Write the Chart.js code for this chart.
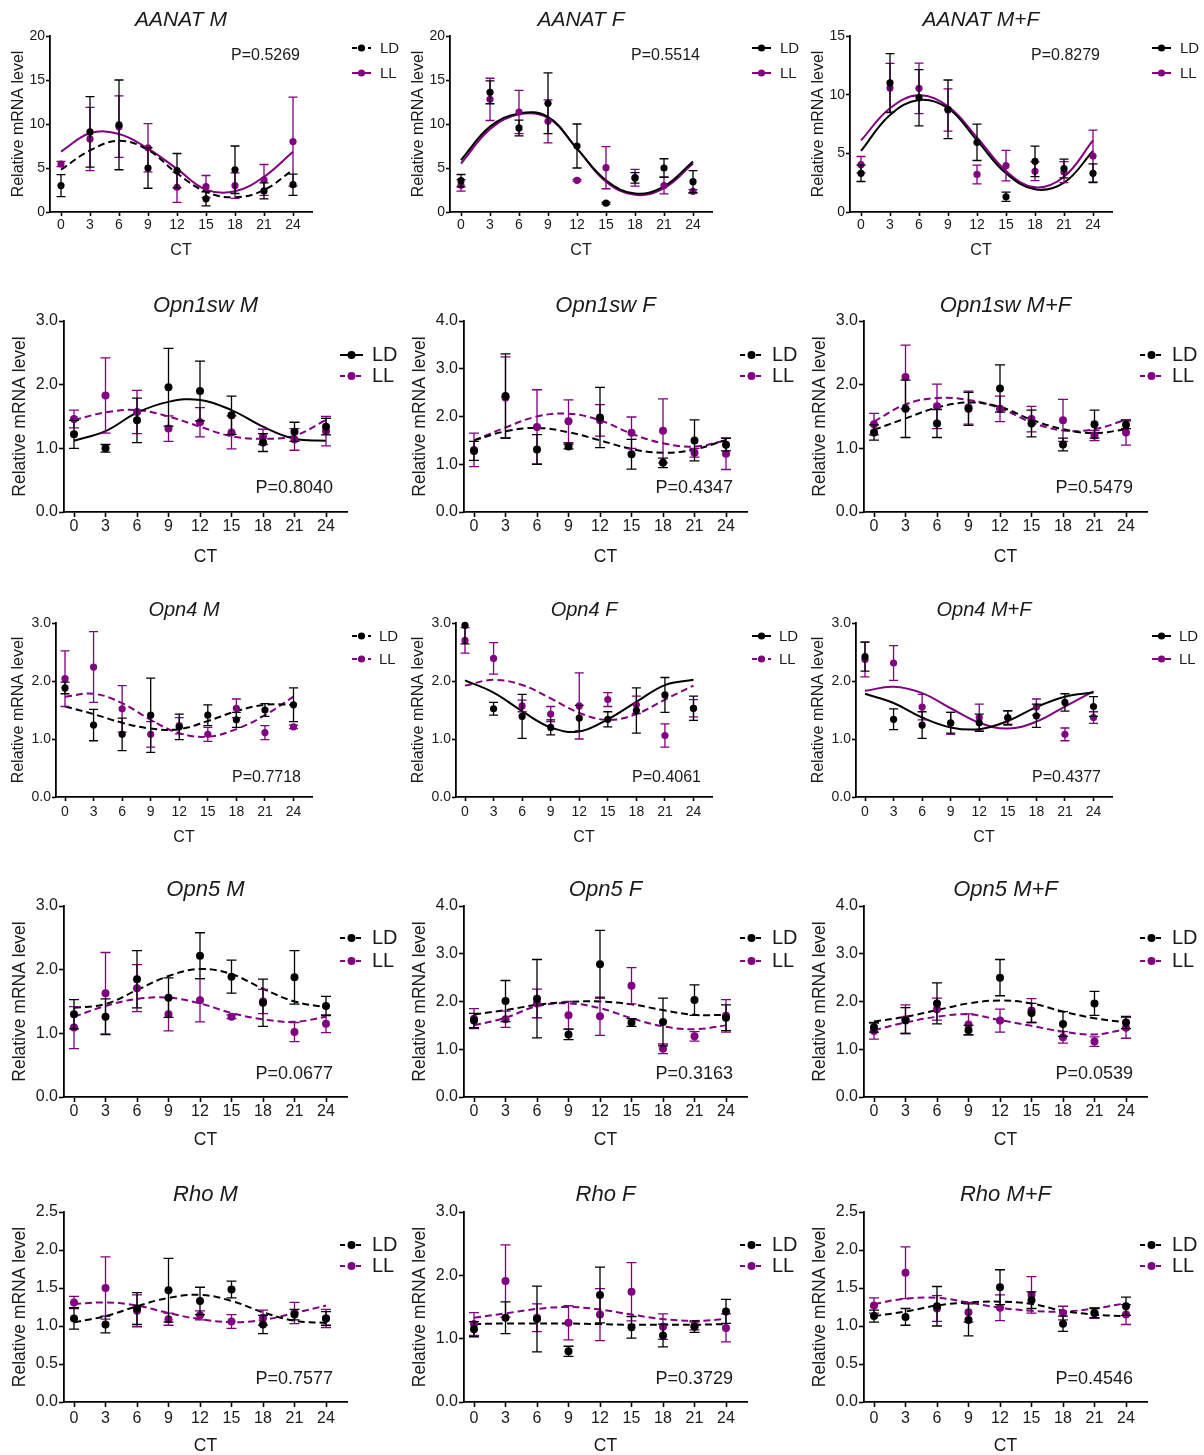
<!DOCTYPE html>
<html><head><meta charset="utf-8">
<script src="https://cdn.jsdelivr.net/npm/chart.js@4.4.1/dist/chart.umd.min.js"></script>
<style>
html,body{margin:0;padding:0;background:#fff;}
body{width:1204px;height:1455px;position:relative;overflow:hidden;}
canvas{position:absolute;}
</style></head><body>
<script>
// ---------------- DATA ----------------
const CT = [0,3,6,9,12,15,18,21,24];
const X_TICKS = [0,3,6,9,12,15,18,21,24];
const Y_TICKS_20 = [0,5,10,15,20];
const Y_TICKS_15 = [0,5,10,15];
const Y_TICKS_3 = [0,1,2,3];
const Y_TICKS_4 = [0,1,2,3,4];
const Y_TICKS_25 = [0,0.5,1,1.5,2,2.5];
const SERIES_NAMES = ['LD','LL'];

const AANAT_M_LD      = [3.0, 9.1, 9.9, 5.0, 4.7, 1.5, 4.8, 2.4, 3.1];
const AANAT_M_LD_SEM  = [1.25, 4.0, 5.1, 2.3, 1.95, 0.8, 2.7, 0.9, 1.2];
const AANAT_M_LL      = [5.45, 8.3, 9.7, 7.3, 2.8, 2.9, 3.0, 3.65, 8.0];
const AANAT_M_LL_SEM  = [0.3, 3.6, 3.5, 2.75, 1.7, 1.25, 1.45, 1.75, 5.05];
const AANAT_M_LD_FIT  = [4.8, 7.0, 8.1, 7.05, 4.4, 2.3, 1.67, 2.5, 4.8];
const AANAT_M_LL_FIT  = [6.86, 8.94, 8.86, 7.2, 4.9, 2.55, 2.35, 4.0, 6.86];

const AANAT_F_LD      = [3.56, 13.6, 9.55, 12.35, 7.5, 1.0, 3.87, 5.0, 3.45];
const AANAT_F_LD_SEM  = [0.7, 1.3, 0.9, 3.45, 2.5, 0.1, 0.6, 1.05, 1.25];
const AANAT_F_LL      = [3.03, 12.8, 11.36, 10.3, 3.6, 5.04, 3.9, 3.0, 2.35];
const AANAT_F_LL_SEM  = [0.65, 2.4, 2.45, 2.45, 0.1, 2.4, 0.95, 0.95, 0.2];
const AANAT_F_LD_FIT  = [5.9, 9.7, 11.2, 10.8, 7.2, 3.6, 2.1, 2.9, 5.75];
const AANAT_F_LL_FIT  = [5.5, 9.4, 11.1, 10.7, 7.2, 3.45, 1.95, 2.7, 5.5];

const AANAT_MF_LD     = [3.3, 11.0, 9.74, 8.75, 5.94, 1.3, 4.32, 3.7, 3.3];
const AANAT_MF_LD_SEM = [0.7, 2.5, 2.4, 2.5, 1.55, 0.4, 1.3, 0.8, 0.8];
const AANAT_MF_LL     = [4.03, 10.57, 10.54, 8.7, 3.2, 3.95, 3.47, 3.4, 4.77];
const AANAT_MF_LL_SEM = [0.7, 2.1, 2.15, 1.8, 0.8, 1.3, 0.8, 0.9, 2.2];
const AANAT_MF_LD_FIT = [5.2, 8.27, 9.55, 8.84, 6.1, 3.3, 1.93, 2.5, 5.2];
const AANAT_MF_LL_FIT = [6.1, 8.84, 9.94, 9.0, 6.36, 3.5, 2.1, 3.0, 6.1];

const OPN1SW_M_LD      = [1.22, 1.0, 1.44, 1.96, 1.9, 1.52, 1.09, 1.26, 1.34];
const OPN1SW_M_LD_SEM  = [0.22, 0.06, 0.35, 0.61, 0.47, 0.3, 0.14, 0.15, 0.13];
const OPN1SW_M_LL      = [1.46, 1.83, 1.57, 1.31, 1.41, 1.25, 1.18, 1.14, 1.27];
const OPN1SW_M_LL_SEM  = [0.14, 0.59, 0.34, 0.2, 0.23, 0.26, 0.12, 0.17, 0.23];
const OPN1SW_M_LD_FIT  = [1.12, 1.27, 1.56, 1.73, 1.76, 1.6, 1.34, 1.15, 1.12];
const OPN1SW_M_LL_FIT  = [1.445, 1.565, 1.6, 1.5, 1.34, 1.19, 1.15, 1.2, 1.445];

const OPN1SW_F_LD      = [1.28, 2.43, 1.31, 1.37, 1.98, 1.21, 1.03, 1.5, 1.41];
const OPN1SW_F_LD_SEM  = [0.2, 0.88, 0.31, 0.05, 0.63, 0.31, 0.1, 0.43, 0.13];
const OPN1SW_F_LL      = [1.3, 2.4, 1.78, 1.9, 1.92, 1.66, 1.7, 1.24, 1.22];
const OPN1SW_F_LL_SEM  = [0.35, 0.85, 0.78, 0.45, 0.33, 0.33, 0.67, 0.09, 0.33];
const OPN1SW_F_LD_FIT  = [1.5, 1.69, 1.76, 1.67, 1.5, 1.32, 1.24, 1.31, 1.51];
const OPN1SW_F_LL_FIT  = [1.5, 1.77, 2.0, 2.06, 1.92, 1.64, 1.44, 1.37, 1.5];

const OPN1SW_MF_LD     = [1.25, 1.62, 1.39, 1.62, 1.94, 1.39, 1.06, 1.38, 1.37];
const OPN1SW_MF_LD_SEM = [0.12, 0.45, 0.22, 0.26, 0.37, 0.21, 0.1, 0.22, 0.06];
const OPN1SW_MF_LL     = [1.38, 2.12, 1.66, 1.64, 1.62, 1.46, 1.44, 1.2, 1.25];
const OPN1SW_MF_LL_SEM = [0.17, 0.5, 0.35, 0.26, 0.2, 0.2, 0.33, 0.08, 0.2];
const OPN1SW_MF_LD_FIT = [1.29, 1.47, 1.64, 1.72, 1.65, 1.45, 1.3, 1.24, 1.3];
const OPN1SW_MF_LL_FIT = [1.42, 1.69, 1.79, 1.76, 1.63, 1.41, 1.28, 1.3, 1.45];

const OPN4_M_LD      = [1.88, 1.24, 1.08, 1.41, 1.21, 1.41, 1.33, 1.5, 1.59];
const OPN4_M_LD_SEM  = [0.1, 0.27, 0.28, 0.64, 0.22, 0.18, 0.13, 0.11, 0.29];
const OPN4_M_LL      = [2.04, 2.24, 1.52, 1.08, 1.23, 1.08, 1.53, 1.11, 1.21];
const OPN4_M_LL_SEM  = [0.48, 0.61, 0.4, 0.22, 0.14, 0.12, 0.16, 0.12, 0.03];
const OPN4_M_LD_FIT  = [1.56, 1.43, 1.28, 1.18, 1.17, 1.31, 1.48, 1.59, 1.59];
const OPN4_M_LL_FIT  = [1.73, 1.78, 1.62, 1.33, 1.1, 1.04, 1.17, 1.41, 1.73];

const OPN4_F_LD      = [2.96, 1.52, 1.39, 1.2, 1.36, 1.34, 1.49, 1.76, 1.53];
const OPN4_F_LD_SEM  = [0.32, 0.11, 0.38, 0.13, 0.22, 0.13, 0.39, 0.3, 0.21];
const OPN4_F_LL      = [2.7, 2.39, 1.57, 1.43, 1.57, 1.68, 1.59, 1.06, 1.53];
const OPN4_F_LL_SEM  = [0.22, 0.27, 0.1, 0.13, 0.57, 0.12, 0.15, 0.2, 0.15];
const OPN4_F_LD_FIT  = [2.01, 1.8, 1.48, 1.2, 1.13, 1.34, 1.64, 1.93, 2.02];
const OPN4_F_LL_FIT  = [1.92, 2.02, 1.93, 1.7, 1.45, 1.33, 1.43, 1.68, 1.92];

const OPN4_MF_LD     = [2.42, 1.34, 1.24, 1.28, 1.28, 1.37, 1.4, 1.63, 1.56];
const OPN4_MF_LD_SEM = [0.25, 0.18, 0.23, 0.18, 0.15, 0.12, 0.2, 0.15, 0.17];
const OPN4_MF_LL     = [2.37, 2.31, 1.55, 1.27, 1.37, 1.36, 1.55, 1.08, 1.37];
const OPN4_MF_LL_SEM = [0.3, 0.3, 0.22, 0.19, 0.23, 0.12, 0.14, 0.11, 0.1];
const OPN4_MF_LD_FIT = [1.78, 1.62, 1.37, 1.2, 1.17, 1.31, 1.55, 1.73, 1.8];
const OPN4_MF_LL_FIT = [1.83, 1.9, 1.79, 1.53, 1.28, 1.18, 1.3, 1.56, 1.82];

const OPN5_M_LD      = [1.3, 1.26, 1.85, 1.56, 2.22, 1.89, 1.48, 1.88, 1.43];
const OPN5_M_LD_SEM  = [0.23, 0.28, 0.45, 0.31, 0.36, 0.26, 0.37, 0.42, 0.15];
const OPN5_M_LL      = [1.09, 1.63, 1.71, 1.3, 1.52, 1.26, 1.5, 1.02, 1.15];
const OPN5_M_LL_SEM  = [0.33, 0.64, 0.37, 0.26, 0.34, 0.03, 0.19, 0.15, 0.14];
const OPN5_M_LD_FIT  = [1.4, 1.46, 1.68, 1.9, 2.01, 1.93, 1.7, 1.5, 1.41];
const OPN5_M_LL_FIT  = [1.26, 1.43, 1.54, 1.56, 1.47, 1.32, 1.22, 1.18, 1.26];

const OPN5_F_LD      = [1.6, 2.01, 2.06, 1.31, 2.78, 1.56, 1.57, 2.03, 1.66];
const OPN5_F_LD_SEM  = [0.15, 0.43, 0.82, 0.11, 0.71, 0.08, 0.5, 0.32, 0.27];
const OPN5_F_LL      = [1.64, 1.63, 1.96, 1.71, 1.69, 2.33, 1.01, 1.27, 1.7];
const OPN5_F_LL_SEM  = [0.21, 0.17, 0.3, 0.29, 0.4, 0.38, 0.1, 0.1, 0.34];
const OPN5_F_LD_FIT  = [1.73, 1.82, 1.93, 1.99, 2.0, 1.94, 1.82, 1.72, 1.72];
const OPN5_F_LL_FIT  = [1.5, 1.66, 1.9, 1.96, 1.86, 1.65, 1.48, 1.42, 1.5];

const OPN5_MF_LD     = [1.46, 1.6, 1.96, 1.4, 2.5, 1.76, 1.53, 1.96, 1.56];
const OPN5_MF_LD_SEM = [0.1, 0.27, 0.43, 0.1, 0.38, 0.2, 0.26, 0.25, 0.13];
const OPN5_MF_LL     = [1.38, 1.63, 1.84, 1.52, 1.6, 1.81, 1.25, 1.16, 1.45];
const OPN5_MF_LL_SEM = [0.17, 0.3, 0.23, 0.22, 0.24, 0.25, 0.12, 0.1, 0.22];
const OPN5_MF_LD_FIT = [1.58, 1.68, 1.82, 1.96, 2.02, 1.96, 1.79, 1.65, 1.56];
const OPN5_MF_LL_FIT = [1.4, 1.56, 1.68, 1.73, 1.61, 1.49, 1.37, 1.31, 1.42];

const RHO_M_LD      = [1.1, 1.02, 1.23, 1.47, 1.33, 1.48, 1.02, 1.15, 1.1];
const RHO_M_LD_SEM  = [0.14, 0.11, 0.21, 0.42, 0.18, 0.11, 0.12, 0.07, 0.09];
const RHO_M_LL      = [1.31, 1.5, 1.2, 1.09, 1.14, 1.06, 1.11, 1.17, 1.1];
const RHO_M_LL_SEM  = [0.08, 0.41, 0.21, 0.08, 0.06, 0.09, 0.1, 0.14, 0.12];
const RHO_M_LD_FIT  = [1.05, 1.13, 1.26, 1.37, 1.41, 1.33, 1.18, 1.07, 1.04];
const RHO_M_LL_FIT  = [1.29, 1.31, 1.27, 1.17, 1.09, 1.05, 1.08, 1.17, 1.27];

const RHO_F_LD      = [1.15, 1.33, 1.31, 0.8, 1.69, 1.18, 1.05, 1.19, 1.43];
const RHO_F_LD_SEM  = [0.12, 0.25, 0.52, 0.08, 0.44, 0.17, 0.18, 0.09, 0.19];
const RHO_F_LL      = [1.23, 1.91, 1.33, 1.25, 1.38, 1.74, 1.19, 1.2, 1.17];
const RHO_F_LL_SEM  = [0.18, 0.57, 0.22, 0.27, 0.41, 0.46, 0.2, 0.06, 0.22];
const RHO_F_LD_FIT  = [1.23, 1.24, 1.24, 1.24, 1.23, 1.22, 1.22, 1.22, 1.23];
const RHO_F_LL_FIT  = [1.33, 1.4, 1.47, 1.5, 1.46, 1.38, 1.31, 1.28, 1.31];

const RHO_MF_LD     = [1.13, 1.12, 1.26, 1.08, 1.51, 1.34, 1.03, 1.17, 1.26];
const RHO_MF_LD_SEM = [0.08, 0.11, 0.26, 0.21, 0.23, 0.11, 0.1, 0.06, 0.12];
const RHO_MF_LL     = [1.27, 1.7, 1.23, 1.18, 1.24, 1.41, 1.17, 1.17, 1.15];
const RHO_MF_LL_SEM = [0.1, 0.34, 0.17, 0.13, 0.17, 0.24, 0.09, 0.07, 0.13];
const RHO_MF_LD_FIT = [1.13, 1.19, 1.27, 1.31, 1.32, 1.29, 1.2, 1.15, 1.13];
const RHO_MF_LL_FIT = [1.29, 1.36, 1.37, 1.31, 1.24, 1.2, 1.19, 1.23, 1.3];

// panel table built from the arrays above
const PANELS = [
 {row:0,col:0,title:'AANAT M',p:'0.5269',yt:Y_TICKS_20,dec:0,ld:AANAT_M_LD,ldS:AANAT_M_LD_SEM,ll:AANAT_M_LL,llS:AANAT_M_LL_SEM,ldF:AANAT_M_LD_FIT,llF:AANAT_M_LL_FIT,ldD:true,llD:false},
 {row:0,col:1,title:'AANAT F',p:'0.5514',yt:Y_TICKS_20,dec:0,ld:AANAT_F_LD,ldS:AANAT_F_LD_SEM,ll:AANAT_F_LL,llS:AANAT_F_LL_SEM,ldF:AANAT_F_LD_FIT,llF:AANAT_F_LL_FIT,ldD:false,llD:false},
 {row:0,col:2,title:'AANAT M+F',p:'0.8279',yt:Y_TICKS_15,dec:0,ld:AANAT_MF_LD,ldS:AANAT_MF_LD_SEM,ll:AANAT_MF_LL,llS:AANAT_MF_LL_SEM,ldF:AANAT_MF_LD_FIT,llF:AANAT_MF_LL_FIT,ldD:false,llD:false},
 {row:1,col:0,title:'Opn1sw M',p:'0.8040',yt:Y_TICKS_3,dec:1,ld:OPN1SW_M_LD,ldS:OPN1SW_M_LD_SEM,ll:OPN1SW_M_LL,llS:OPN1SW_M_LL_SEM,ldF:OPN1SW_M_LD_FIT,llF:OPN1SW_M_LL_FIT,ldD:false,llD:true},
 {row:1,col:1,title:'Opn1sw F',p:'0.4347',yt:Y_TICKS_4,dec:1,ld:OPN1SW_F_LD,ldS:OPN1SW_F_LD_SEM,ll:OPN1SW_F_LL,llS:OPN1SW_F_LL_SEM,ldF:OPN1SW_F_LD_FIT,llF:OPN1SW_F_LL_FIT,ldD:true,llD:true},
 {row:1,col:2,title:'Opn1sw M+F',p:'0.5479',yt:Y_TICKS_3,dec:1,ld:OPN1SW_MF_LD,ldS:OPN1SW_MF_LD_SEM,ll:OPN1SW_MF_LL,llS:OPN1SW_MF_LL_SEM,ldF:OPN1SW_MF_LD_FIT,llF:OPN1SW_MF_LL_FIT,ldD:true,llD:true},
 {row:2,col:0,title:'Opn4 M',p:'0.7718',yt:Y_TICKS_3,dec:1,ld:OPN4_M_LD,ldS:OPN4_M_LD_SEM,ll:OPN4_M_LL,llS:OPN4_M_LL_SEM,ldF:OPN4_M_LD_FIT,llF:OPN4_M_LL_FIT,ldD:true,llD:true},
 {row:2,col:1,title:'Opn4 F',p:'0.4061',yt:Y_TICKS_3,dec:1,ld:OPN4_F_LD,ldS:OPN4_F_LD_SEM,ll:OPN4_F_LL,llS:OPN4_F_LL_SEM,ldF:OPN4_F_LD_FIT,llF:OPN4_F_LL_FIT,ldD:false,llD:true},
 {row:2,col:2,title:'Opn4 M+F',p:'0.4377',yt:Y_TICKS_3,dec:1,ld:OPN4_MF_LD,ldS:OPN4_MF_LD_SEM,ll:OPN4_MF_LL,llS:OPN4_MF_LL_SEM,ldF:OPN4_MF_LD_FIT,llF:OPN4_MF_LL_FIT,ldD:false,llD:false},
 {row:3,col:0,title:'Opn5 M',p:'0.0677',yt:Y_TICKS_3,dec:1,ld:OPN5_M_LD,ldS:OPN5_M_LD_SEM,ll:OPN5_M_LL,llS:OPN5_M_LL_SEM,ldF:OPN5_M_LD_FIT,llF:OPN5_M_LL_FIT,ldD:true,llD:true},
 {row:3,col:1,title:'Opn5 F',p:'0.3163',yt:Y_TICKS_4,dec:1,ld:OPN5_F_LD,ldS:OPN5_F_LD_SEM,ll:OPN5_F_LL,llS:OPN5_F_LL_SEM,ldF:OPN5_F_LD_FIT,llF:OPN5_F_LL_FIT,ldD:true,llD:true},
 {row:3,col:2,title:'Opn5 M+F',p:'0.0539',yt:Y_TICKS_4,dec:1,ld:OPN5_MF_LD,ldS:OPN5_MF_LD_SEM,ll:OPN5_MF_LL,llS:OPN5_MF_LL_SEM,ldF:OPN5_MF_LD_FIT,llF:OPN5_MF_LL_FIT,ldD:true,llD:true},
 {row:4,col:0,title:'Rho M',p:'0.7577',yt:Y_TICKS_25,dec:1,ld:RHO_M_LD,ldS:RHO_M_LD_SEM,ll:RHO_M_LL,llS:RHO_M_LL_SEM,ldF:RHO_M_LD_FIT,llF:RHO_M_LL_FIT,ldD:true,llD:true},
 {row:4,col:1,title:'Rho F',p:'0.3729',yt:Y_TICKS_3,dec:1,ld:RHO_F_LD,ldS:RHO_F_LD_SEM,ll:RHO_F_LL,llS:RHO_F_LL_SEM,ldF:RHO_F_LD_FIT,llF:RHO_F_LL_FIT,ldD:true,llD:true},
 {row:4,col:2,title:'Rho M+F',p:'0.4546',yt:Y_TICKS_25,dec:1,ld:RHO_MF_LD,ldS:RHO_MF_LD_SEM,ll:RHO_MF_LL,llS:RHO_MF_LL_SEM,ldF:RHO_MF_LD_FIT,llF:RHO_MF_LL_FIT,ldD:true,llD:true},
];

// ---------------- LAYOUT / STYLE ----------------
const FONT = "'Liberation Sans', Arial, Helvetica, sans-serif";
const BLACK = '#000000';
const PURPLE = '#800080';
const TEXT = '#1a1a1a';
const COL_X = [0, 400, 800];
const COL_W = [400, 400, 404];
const ROWS = [
 {top:0,    h:265, title:20,   plotTop:36, plotBottom:212, tickLbl:225, ct:251, yAxis:50, xEnd:312, x0:61, x24:293,   yTitleX:18.5, fTitle:21, fTick:14, fAxis:16,   fLeg:15, fP:16, legY:[48,73], legLine:[352,371], legText:380, pX:300, pY:56,  cap:4.5, r:3.6, tl:4},
 {top:285,  h:285, title:20.7, plotTop:36, plotBottom:227, tickLbl:242, ct:272, yAxis:64, xEnd:347, x0:74, x24:326,   yTitleX:20,   fTitle:22, fTick:16, fAxis:17.5, fLeg:20, fP:18, legY:[70,91], legLine:[340,363], legText:372, pX:333, pY:203, cap:5,   r:4,   tl:5},
 {top:595,  h:255, title:15,   plotTop:28, plotBottom:202, tickLbl:217, ct:243, yAxis:56, xEnd:312, x0:65, x24:293.5, yTitleX:19,   fTitle:20, fTick:14, fAxis:16,   fLeg:15, fP:16, legY:[41,64], legLine:[352,371], legText:379, pX:301, pY:183, cap:4.5, r:3.6, tl:4},
 {top:875,  h:280, title:15,   plotTop:31, plotBottom:222, tickLbl:237, ct:265, yAxis:64, xEnd:347, x0:74, x24:326,   yTitleX:20,   fTitle:22, fTick:16, fAxis:17.5, fLeg:20, fP:18, legY:[63,86], legLine:[340,363], legText:372, pX:333, pY:199, cap:5,   r:4,   tl:5},
 {top:1178, h:277, title:17,   plotTop:34, plotBottom:224, tickLbl:241, ct:268, yAxis:64, xEnd:347, x0:74, x24:326,   yTitleX:20,   fTitle:22, fTick:16, fAxis:17.5, fLeg:20, fP:18, legY:[67,88], legLine:[340,363], legText:372, pX:333, pY:201, cap:5,   r:4,   tl:5},
];
const DASH = [7,4];

const errorBarPlugin = {
  id:'errorBars',
  beforeDatasetDraw(chart, args){
    const ds = chart.data.datasets[args.index];
    if (!ds.sem) return;
    const {ctx, chartArea} = chart;
    const xs = chart.scales.x, ys = chart.scales.y;
    const cap = chart.options.plugins.errorBars.cap;
    ctx.save();
    ctx.strokeStyle = ds.errColor;
    ctx.lineWidth = 1.3;
    ctx.setLineDash([]);
    ds.data.forEach((pt, i) => {
      const s = ds.sem[i];
      const x = xs.getPixelForValue(pt.x);
      const yTopRaw = ys.getPixelForValue(pt.y + s);
      const yBot = ys.getPixelForValue(pt.y - s);
      const yTop = Math.max(yTopRaw, chartArea.top);
      ctx.beginPath();
      ctx.moveTo(x, yBot); ctx.lineTo(x, yTop);
      ctx.moveTo(x - cap, yBot); ctx.lineTo(x + cap, yBot);
      if (yTopRaw >= chartArea.top) { ctx.moveTo(x - cap, yTop); ctx.lineTo(x + cap, yTop); }
      ctx.stroke();
    });
    ctx.restore();
  }
};

const annotPlugin = {
  id:'annot',
  afterDraw(chart){
    const o = chart.options.plugins.annot;
    const L = o.L;
    const ctx = chart.ctx;
    ctx.save();
    const items = [[SERIES_NAMES[0], BLACK, o.ldD],[SERIES_NAMES[1], PURPLE, o.llD]];
    items.forEach(([lab, col, dash], i) => {
      const y = L.legY[i];
      ctx.strokeStyle = col; ctx.lineWidth = 2;
      ctx.setLineDash(dash ? [5,3] : []);
      ctx.beginPath(); ctx.moveTo(L.legLine[0], y); ctx.lineTo(L.legLine[1], y); ctx.stroke();
      ctx.setLineDash([]);
      ctx.fillStyle = col;
      ctx.beginPath(); ctx.arc((L.legLine[0]+L.legLine[1])/2, y, L.r, 0, Math.PI*2); ctx.fill();
      ctx.fillStyle = TEXT;
      ctx.font = L.fLeg + 'px ' + FONT;
      ctx.textAlign = 'left'; ctx.textBaseline = 'middle';
      ctx.fillText(lab, L.legText, y + 0.5);
    });
    ctx.fillStyle = TEXT;
    ctx.font = L.fP + 'px ' + FONT;
    ctx.textAlign = 'right'; ctx.textBaseline = 'middle';
    ctx.fillText('P=' + o.p, L.pX, L.pY);
    ctx.restore();
  }
};

Chart.defaults.font.family = FONT;
Chart.defaults.color = TEXT;

PANELS.forEach((P) => {
  const L = ROWS[P.row];
  const W = COL_W[P.col];
  const cv = document.createElement('canvas');
  cv.width = W; cv.height = L.h;
  cv.style.left = COL_X[P.col] + 'px'; cv.style.top = L.top + 'px';
  cv.style.width = W + 'px'; cv.style.height = L.h + 'px';
  document.body.appendChild(cv);

  const pxPerH = (L.x24 - L.x0) / 24;
  const xmin = -(L.x0 - L.yAxis) / pxPerH;
  const xmax = 24 + (L.xEnd - L.x24) / pxPerH;
  const tLH = L.fTitle * 1.2;
  const xScaleBottom = L.ct + 0.6 * L.fAxis;
  const xScaleH = xScaleBottom - L.plotBottom;
  const xTickPad = L.tickLbl - L.plotBottom - L.tl - 0.6 * L.fTick;

  const pts = (ys) => CT.map((x, i) => ({x, y: ys[i]}));

  new Chart(cv, {
    type: 'scatter',
    data: {
      datasets: [
        {label:'LD', data: pts(P.ld), sem: P.ldS, errColor: BLACK, order: 0,
         pointRadius: L.r, pointHoverRadius: L.r, pointBackgroundColor: BLACK, pointBorderColor: BLACK, pointBorderWidth: 0, showLine: false, clip: false},
        {label:'LL', data: pts(P.ll), sem: P.llS, errColor: PURPLE, order: 1,
         pointRadius: L.r, pointHoverRadius: L.r, pointBackgroundColor: PURPLE, pointBorderColor: PURPLE, pointBorderWidth: 0, showLine: false, clip: false},
        {label:'LD fit', data: pts(P.ldF), order: 2, showLine: true, tension: 0.4, pointRadius: 0, borderColor: BLACK, borderWidth: 2, borderDash: P.ldD ? DASH : [], fill: false},
        {label:'LL fit', data: pts(P.llF), order: 3, showLine: true, tension: 0.4, pointRadius: 0, borderColor: PURPLE, borderWidth: 2, borderDash: P.llD ? DASH : [], fill: false},
      ]
    },
    options: {
      responsive: false, animation: false, devicePixelRatio: 1, events: [],
      layout: {padding: {left: 0, top: 0, right: W - L.xEnd, bottom: L.h - xScaleBottom}},
      plugins: {
        legend: {display: false}, tooltip: {enabled: false},
        title: {display: true, text: P.title, fullSize: false, color: TEXT,
                font: {family: FONT, size: L.fTitle, style: 'italic', weight: 'normal', lineHeight: 1.2},
                padding: {top: L.title - tLH/2, bottom: L.plotTop - L.title - tLH/2}},
        errorBars: {cap: L.cap},
        annot: {L, p: P.p, ldD: P.ldD, llD: P.llD}
      },
      scales: {
        x: {
          type: 'linear', min: xmin, max: xmax,
          afterBuildTicks: (s) => { s.ticks = X_TICKS.map(v => ({value: v})); },
          afterFit: (s) => { s.height = xScaleH; },
          ticks: {font: {size: L.fTick, family: FONT}, color: TEXT, padding: xTickPad, maxRotation: 0, autoSkip: false,
                  callback: (v) => String(v)},
          grid: {display: true, drawOnChartArea: false, drawTicks: true, tickLength: L.tl, tickWidth: 1.6, tickColor: BLACK, color: BLACK},
          border: {display: true, color: BLACK, width: 1.8},
          title: {display: true, text: 'CT', color: TEXT, font: {size: L.fAxis, family: FONT, lineHeight: 1.2}, padding: {top: 0, bottom: 0}}
        },
        y: {
          type: 'linear', min: 0, max: P.yt[P.yt.length - 1],
          afterBuildTicks: (s) => { s.ticks = P.yt.map(v => ({value: v})); },
          afterFit: (s) => { s.width = L.yAxis; },
          ticks: {font: {size: L.fTick, family: FONT}, color: TEXT, padding: 1,
                  callback: (v) => P.dec ? Number(v).toFixed(P.dec) : String(v)},
          grid: {display: true, drawOnChartArea: false, drawTicks: true, tickLength: L.tl, tickWidth: 1.6, tickColor: BLACK, color: BLACK},
          border: {display: true, color: BLACK, width: 1.8},
          title: {display: true, text: 'Relative mRNA level', color: TEXT, font: {size: L.fAxis, family: FONT, lineHeight: 1.2}, padding: {top: L.yTitleX - 0.6 * L.fAxis, bottom: 0}}
        }
      }
    },
    plugins: [errorBarPlugin, annotPlugin]
  });
});
</script>
</body></html>
